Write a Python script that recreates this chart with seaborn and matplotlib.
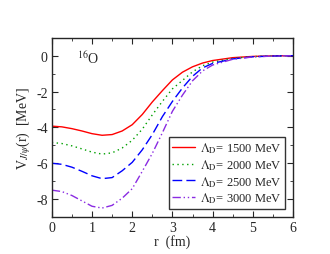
import numpy as np
import pandas as pd
import matplotlib
matplotlib.use('Agg')
import matplotlib.pyplot as plt
from matplotlib.ticker import MultipleLocator
import seaborn as sns

# radial grid (fm) and potentials (MeV)
r = [0, 0.25, 0.5, 0.75, 1.0, 1.25, 1.5, 1.75, 2.0, 2.25, 2.5, 2.75,
     3.0, 3.25, 3.5, 3.75, 4.0, 4.5, 5.0, 5.5, 6.0]
v1500 = [-3.93, -3.97, -4.07, -4.2, -4.35, -4.44, -4.4, -4.2, -3.85, -3.28, -2.58, -1.95,
         -1.35, -0.92, -0.62, -0.41, -0.27, -0.11, -0.04, -0.01, 0.0]
v2000 = [-4.84, -4.9, -5.03, -5.2, -5.38, -5.49, -5.42, -5.15, -4.72, -4.1, -3.3, -2.55,
         -1.85, -1.38, -0.9, -0.56, -0.36, -0.15, -0.05, -0.015, 0.0]
v2500 = [-6.0, -6.06, -6.22, -6.45, -6.7, -6.86, -6.8, -6.42, -5.95, -5.25, -4.4, -3.4,
         -2.55, -1.8, -1.15, -0.68, -0.43, -0.18, -0.06, -0.02, 0.0]
v3000 = [-7.5, -7.58, -7.8, -8.1, -8.4, -8.5, -8.35, -7.95, -7.42, -6.45, -5.45, -4.3,
         -3.1, -2.2, -1.4, -0.85, -0.52, -0.2, -0.07, -0.02, 0.0]

labels = ['$\\Lambda_{\\mathrm{D}}$= 1500 MeV', '$\\Lambda_{\\mathrm{D}}$= 2000 MeV',
          '$\\Lambda_{\\mathrm{D}}$= 2500 MeV', '$\\Lambda_{\\mathrm{D}}$= 3000 MeV']
colors = ['#ff0000', '#00a000', '#0000ff', '#8a2be2']
dashes = [(None, None), (1, 2.5), (7, 3), (6, 2, 1, 2, 1, 2)]

df = pd.DataFrame({'r': r * 4,
                   'V': v1500 + v2000 + v2500 + v3000,
                   'lam': [l for l in labels for _ in r]})

sns.set_style('ticks')
plt.rcParams['font.family'] = ['Liberation Serif', 'DejaVu Serif']
plt.rcParams['mathtext.fontset'] = 'stix'

fig = plt.figure(figsize=(3.3, 2.55), dpi=100)
ax = fig.add_axes([0.157, 0.145, 0.731, 0.703])

for lab, c, d in zip(labels, colors, dashes):
    sub = df[df.lam == lab]
    line, = ax.plot(sub.r, sub.V, color=c, lw=1.0, label=lab)
    if d[0] is not None:
        line.set_dashes(d)

ax.set_xlim(0, 6)
ax.set_ylim(-9, 1)
ax.xaxis.set_major_locator(MultipleLocator(1))
ax.xaxis.set_minor_locator(MultipleLocator(0.5))
ax.yaxis.set_major_locator(MultipleLocator(2))
ax.yaxis.set_minor_locator(MultipleLocator(1))
ax.tick_params(which='both', direction='in', top=True, right=True, labelsize=10, pad=3)
ax.tick_params(which='major', length=4)
ax.tick_params(which='minor', length=2)
for s in ax.spines.values():
    s.set_linewidth(1.0)
ax.set_yticklabels([f'{int(t)}' if t != 0 else '0' for t in ax.get_yticks()])

ax.set_xlabel('r  (fm)', fontsize=10, labelpad=0)
ax.set_ylabel('V$_{J/\\psi}$(r)  [MeV]', fontsize=10, labelpad=2)
ax.text(0.105, 0.89, '$^{16}$O', transform=ax.transAxes, fontsize=10, va='center')

leg = ax.legend(loc='lower right', bbox_to_anchor=(0.968, 0.045), fontsize=9,
                frameon=True, fancybox=False, edgecolor='black', handlelength=1.8,
                handletextpad=0.4, borderpad=0.3, labelspacing=0.15, borderaxespad=0)
leg.get_frame().set_linewidth(1.0)

fig.savefig('out.png', dpi=100)
